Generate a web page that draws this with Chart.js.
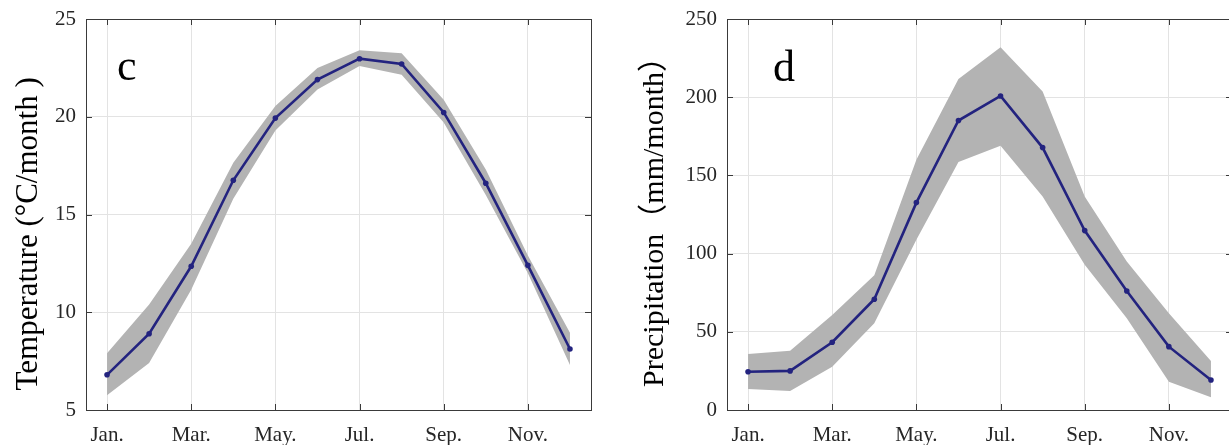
<!DOCTYPE html>
<html>
<head>
<meta charset="utf-8">
<script src="https://cdn.jsdelivr.net/npm/chart.js@4.4.1/dist/chart.umd.min.js"></script>
<style>
  html, body { margin: 0; padding: 0; background: #fff; overflow: hidden; }
  body { width: 1229px; height: 445px; position: relative; }
  .panel { position: absolute; top: 0; height: 445px; }
  #temp-panel { left: 0; width: 600px; }
  #prec-panel { left: 627px; width: 615px; }
</style>
</head>
<body>
<div class="panel" id="temp-panel"><canvas id="temp-chart"></canvas></div>
<div class="panel" id="prec-panel"><canvas id="prec-chart"></canvas></div>
<script>
// month positions and labels (ticks every second month)
const months = [1, 2, 3, 4, 5, 6, 7, 8, 9, 10, 11, 12]
const monthTicks = [1, 3, 5, 7, 9, 11]
const monthLabels = ['Jan.', 'Mar.', 'May.', 'Jul.', 'Sep.', 'Nov.']

// panel c: temperature
const tempMean = [6.8, 8.9, 12.35, 16.75, 19.93, 21.9, 22.97, 22.7, 20.22, 16.6, 12.4, 8.12]
const tempUpper = [7.9, 10.4, 13.5, 17.65, 20.55, 22.5, 23.4, 23.25, 20.87, 17.3, 12.9, 8.95]
const tempLower = [5.75, 7.4, 11.15, 15.8, 19.3, 21.4, 22.6, 22.15, 19.7, 16.0, 12.0, 7.3]
const tempTicks = [5, 10, 15, 20, 25]

// panel d: precipitation
const precMean = [24.5, 25, 43.3, 70.8, 132.6, 185.1, 200.8, 167.8, 114.7, 76.1, 40.5, 19.2]
const precUpper = [35.8, 37.9, 60.8, 86.2, 160, 211.6, 232, 203.7, 136.5, 94.9, 61.9, 31.3]
const precLower = [13.4, 12.2, 27.7, 55.5, 108.8, 158.5, 169, 136.5, 92.8, 58.7, 18.1, 8.1]
const precTicks = [0, 50, 100, 150, 200, 250]

const serif = "'Liberation Serif', 'Times New Roman', 'Noto Sans CJK SC', serif"
const lineColor = '#23237f'
const bandColor = '#b3b3b3'
const axisColor = '#3a3a3a'
const textColor = '#262626'

function toPoints(values) {
  return months.map((m, i) => ({ x: m, y: values[i] }))
}

// MATLAB-like box with inward ticks on all four sides, plus the panel letter
const boxPlugin = {
  id: 'box',
  afterDraw(chart, args, opts) {
    const { ctx, chartArea: a, scales } = chart
    ctx.save()
    ctx.strokeStyle = axisColor
    ctx.lineWidth = 1
    ctx.strokeRect(a.left + 0.5, a.top + 0.5, a.right - a.left, a.bottom - a.top)
    const len = 6
    ctx.beginPath()
    scales.x.ticks.forEach(t => {
      const px = Math.round(scales.x.getPixelForValue(t.value)) + 0.5
      ctx.moveTo(px, a.bottom); ctx.lineTo(px, a.bottom - len)
      ctx.moveTo(px, a.top); ctx.lineTo(px, a.top + len)
    })
    scales.y.ticks.forEach(t => {
      const py = Math.round(scales.y.getPixelForValue(t.value)) + 0.5
      ctx.moveTo(a.left, py); ctx.lineTo(a.left + len, py)
      ctx.moveTo(a.right, py); ctx.lineTo(a.right - len, py)
    })
    ctx.stroke()
    ctx.fillStyle = '#000'
    ctx.font = '44px ' + serif
    ctx.textBaseline = 'alphabetic'
    ctx.fillText(opts.letter, a.left + opts.dx, a.top + opts.dy)
    ctx.restore()
  }
}

function makeChart(id, mean, upper, lower, yTicks, title, titleSize, axisWidth, rightPad, letter, dx, dy) {
  const yMin = yTicks[0]
  const yMax = yTicks[yTicks.length - 1]
  return new Chart(document.getElementById(id), {
    type: 'line',
    data: {
      datasets: [
        {
          data: toPoints(mean),
          borderColor: lineColor,
          backgroundColor: lineColor,
          borderWidth: 2.6,
          pointRadius: 2.8,
          pointBorderWidth: 0,
          fill: false,
          tension: 0
        },
        {
          data: toPoints(upper),
          borderWidth: 0,
          pointRadius: 0,
          backgroundColor: bandColor,
          fill: '+1',
          tension: 0
        },
        {
          data: toPoints(lower),
          borderWidth: 0,
          pointRadius: 0,
          backgroundColor: bandColor,
          fill: false,
          tension: 0
        }
      ]
    },
    options: {
      responsive: true,
      maintainAspectRatio: false,
      animation: false,
      events: [],
      layout: { padding: { top: 19, right: rightPad, left: 0, bottom: 0 } },
      plugins: {
        legend: { display: false },
        tooltip: { enabled: false },
        box: { letter: letter, dx: dx, dy: dy }
      },
      scales: {
        x: {
          type: 'linear',
          min: 0.5,
          max: 12.5,
          afterBuildTicks: scale => { scale.ticks = monthTicks.map(v => ({ value: v })) },
          afterFit: scale => { scale.height = 35 },
          ticks: {
            autoSkip: false,
            maxRotation: 0,
            padding: 13,
            color: textColor,
            font: { family: serif, size: 21 },
            callback: value => monthLabels[monthTicks.indexOf(value)]
          },
          grid: { color: '#e3e3e3', lineWidth: 1, drawTicks: false },
          border: { display: false }
        },
        y: {
          min: yMin,
          max: yMax,
          afterBuildTicks: scale => { scale.ticks = yTicks.map(v => ({ value: v })) },
          afterFit: scale => {
            scale.width = axisWidth
            scale.paddingTop = 0
            scale.paddingBottom = 0
          },
          ticks: {
            padding: 10,
            color: textColor,
            font: { family: serif, size: 21 }
          },
          grid: { color: '#e3e3e3', lineWidth: 1, drawTicks: false },
          border: { display: false },
          title: {
            display: true,
            text: title,
            color: '#000',
            font: { family: serif, size: titleSize },
            padding: { top: 10, bottom: 0 }
          }
        }
      }
    },
    plugins: [boxPlugin]
  })
}

makeChart('temp-chart', tempMean, tempUpper, tempLower, tempTicks,
  'Temperature (°C/month )     ', 31, 86, 9, 'c', 31, 61)
makeChart('prec-chart', precMean, precUpper, precLower, precTicks,
  'Precipitation（mm/month）', 30, 100, 10, 'd', 46, 62)
</script>
</body>
</html>
